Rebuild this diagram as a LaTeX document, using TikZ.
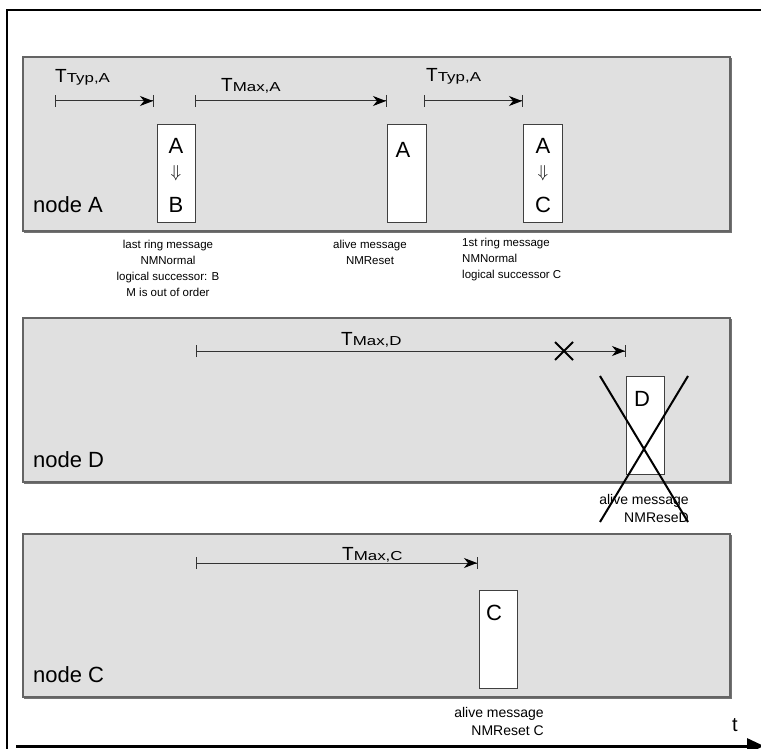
\documentclass[tikz,border=0pt]{standalone}
\usepackage{fontspec}
\setmainfont{Liberation Sans}
\usepackage{graphicx}
\usetikzlibrary{arrows.meta,shapes.misc}
\definecolor{panelgray}{RGB}{224,224,224}
\definecolor{edgegray}{RGB}{100,100,100}
\newcommand{\tlab}[1]{{\fontsize{19}{19}\selectfont T}{\fontsize{13}{13}\selectfont\scalebox{1.3}[1]{#1}}}
\newcommand{\ringtxt}[2]{#1\\{\fontsize{19}{19}\selectfont$\Downarrow$}\\[11pt]#2}
\begin{document}
\begin{tikzpicture}[x=1pt,y=-1pt,
  panel/.style={draw=edgegray, line width=1.2pt, fill=panelgray},
  shade/.style={draw=black!55, line width=1pt},
  msgbox/.style={draw=black!75, line width=1pt, fill=white, rectangle, inner sep=0pt, minimum width=38pt, minimum height=98pt},
  boxtxt/.style={inner sep=0pt, font=\fontsize{22}{22}\selectfont},
  ringbox/.style={inner sep=0pt, align=center, anchor=north, font=\fontsize{22}{24}\selectfont},
  nodelbl/.style={inner sep=0pt, anchor=west, font=\fontsize{22}{22}\selectfont},
  tl/.style={inner sep=0pt, anchor=base west},
  small/.style={inner sep=0pt, font=\fontsize{11.5}{16}\selectfont},
  mid/.style={inner sep=0pt, font=\fontsize{14}{18}\selectfont},
  dur/.style={draw=black!80, line width=1pt, {Bar[width=12pt,line width=1pt]}-{Stealth[length=13pt,width=10pt,inset=4pt,color=black,fill=black]Bar[width=12pt,line width=1pt]}},
  frame/.style={line width=2pt, line join=miter}
]
\useasboundingbox (0,0) rectangle (761,749);

% outer frame
\draw[frame] (7,760) -- (7,10) -- (770,10);

% panels
\path[panel] (23,57) rectangle (730,231);
\draw[shade] (731.5,58) -- (731.5,232.5) -- (24,232.5);
\path[panel] (23,318) rectangle (730,482);
\draw[shade] (731.5,319) -- (731.5,483.5) -- (24,483.5);
\path[panel] (23,534) rectangle (730,697);
\draw[shade] (731.5,535) -- (731.5,698.5) -- (24,698.5);

% node labels
\node[nodelbl] (nA) at (33,205) {node A};
\node[nodelbl] (nD) at (33,460) {node D};
\node[nodelbl] (nC) at (33,675) {node C};

% panel A: durations
\coordinate (a1s) at (55,101);  \coordinate (a1e) at (154,101);
\coordinate (a2s) at (195,101); \coordinate (a2e) at (387,101);
\coordinate (a3s) at (424,101); \coordinate (a3e) at (523,101);
\draw[dur] (a1s) -- (a1e);
\draw[dur] (a2s) -- (a2e);
\draw[dur] (a3s) -- (a3e);
\node[tl] (t1) at (55,83) {\tlab{Typ,A}};
\node[tl] (t2) at (221,92) {\tlab{Max,A}};
\node[tl] (t3) at (426,82) {\tlab{Typ,A}};

% panel A: messages
\node[msgbox] (mAB) at (176,174) {};
\node[ringbox] (mABt) at (176,138) {\ringtxt{A}{B}};
\node[msgbox, minimum width=39pt] (mA) at (406.5,174) {};
\node[boxtxt] (mA1) at (403,150) {A};
\node[msgbox, minimum width=39pt] (mAC) at (542.5,174) {};
\node[ringbox] (mACt) at (543,138) {\ringtxt{A}{C}};

\node[small, align=center, anchor=north] (lA1) at (168,240) {last ring message\\NMNormal\\logical successor: B\\M is out of order};
\node[small, align=center, anchor=north] (lA2) at (370,240) {alive message\\NMReset};
\node[small, align=left, anchor=north west] (lA3) at (462,238) {1st ring message\\NMNormal\\logical successor C};

% panel D
\coordinate (ds) at (196,351); \coordinate (de) at (626,351);
\draw[dur] (ds) -- (de);
\node[tl] (t4) at (341,345) {\tlab{Max,D}};
\node[cross out, draw=black, line width=2pt, minimum size=16pt, inner sep=0pt] (xm) at (564,351) {};
\node[msgbox] (mD) at (645,425.5) {};
\node[boxtxt] (mD1) at (642,399) {D};
\node[mid, align=right, anchor=north east] (lD) at (689,494) {alive message\\NMReseD};
\node[cross out, draw=black, line width=2pt, minimum width=86pt, minimum height=144pt, inner sep=0pt] (xD) at (644,449) {};

% panel C
\coordinate (cs) at (196,563); \coordinate (ce) at (478,563);
\draw[dur] (cs) -- (ce);
\node[tl] (t5) at (342,560) {\tlab{Max,C}};
\node[msgbox] (mC) at (498,639) {};
\node[boxtxt] (mC1) at (494,613) {C};
\node[mid, align=right, anchor=north east] (lC) at (544,707) {alive message\\NMReset C};

% time axis
\coordinate (ax0) at (16,746); \coordinate (ax1) at (764,746);
\draw[line width=3pt, -{Triangle[length=17pt,width=15pt]}] (ax0) -- (ax1);
\node[inner sep=0pt, font=\fontsize{20}{20}\selectfont] (tt) at (735,725) {t};
\end{tikzpicture}
\end{document}
